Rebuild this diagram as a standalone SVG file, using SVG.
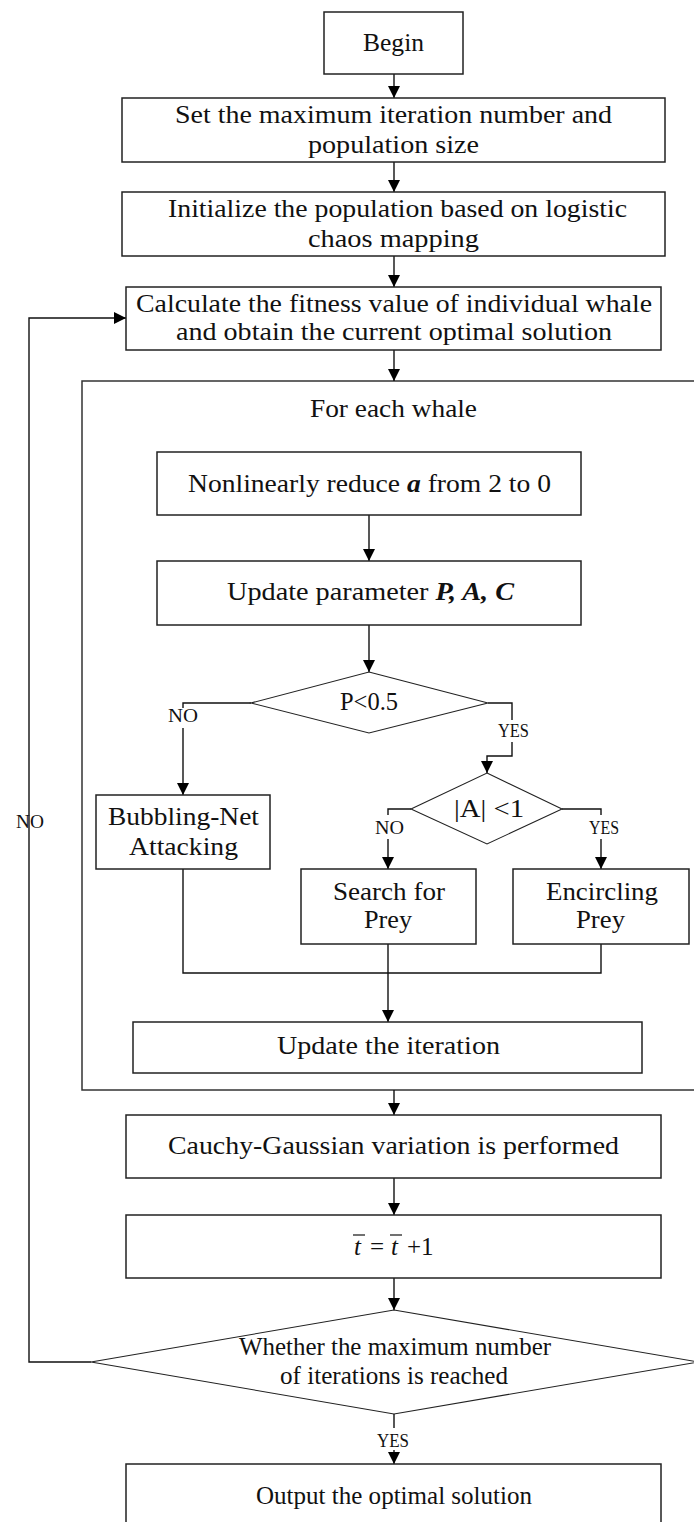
<svg xmlns="http://www.w3.org/2000/svg" width="694" height="1522" viewBox="0 0 694 1522">
<defs>
<marker id="ah" markerWidth="12" markerHeight="12" viewBox="0 0 12 12" refX="12" refY="6" orient="auto" markerUnits="userSpaceOnUse">
<path d="M0,0 L12,6 L0,12 Z" fill="#000"/>
</marker>
<style>
.box{fill:#fff;stroke:#222;stroke-width:1.5}
.dia{fill:#fff;stroke:#222;stroke-width:1.1}
.t{font-family:"Liberation Serif","Times New Roman",serif;font-size:25px;fill:#111}
.s{font-family:"Liberation Serif","Times New Roman",serif;font-size:19px;fill:#111}
.ln{fill:none;stroke:#111;stroke-width:1.4}
.arr{fill:none;stroke:#111;stroke-width:1.4;marker-end:url(#ah)}
.bi{font-weight:bold;font-style:italic}
</style>
</defs>
<rect width="694" height="1522" fill="#fff"/>

<g id="container">
<rect x="82" y="381" width="630" height="709" fill="none" stroke="#333" stroke-width="1.5"/>
<text class="t" x="310" y="417" textLength="167" lengthAdjust="spacingAndGlyphs">For each whale</text>
</g>

<g id="connectors">
<line class="arr" x1="394" y1="74" x2="394" y2="98"/>
<line class="arr" x1="394" y1="162" x2="394" y2="192"/>
<line class="arr" x1="394" y1="256" x2="394" y2="287"/>
<line class="arr" x1="394" y1="350" x2="394" y2="381"/>
<line class="arr" x1="369" y1="515" x2="369" y2="561"/>
<line class="arr" x1="369" y1="625" x2="369" y2="672"/>
<polyline class="ln" points="251,703 183,703 183,708"/>
<line class="arr" x1="183" y1="728" x2="183" y2="795"/>
<polyline class="ln" points="488,703 512,703 512,720"/>
<polyline class="arr" points="512,742 512,756 487,756 487,773"/>
<polyline class="ln" points="411,809 388,809 388,815"/>
<line class="arr" x1="388" y1="839" x2="388" y2="869"/>
<polyline class="ln" points="562,809 601,809 601,815"/>
<line class="arr" x1="601" y1="839" x2="601" y2="869"/>
<polyline class="ln" points="183,869 183,973 601,973 601,944"/>
<line class="arr" x1="388" y1="944" x2="388" y2="1022"/>
<line class="arr" x1="394" y1="1090" x2="394" y2="1115"/>
<line class="arr" x1="394" y1="1178" x2="394" y2="1215"/>
<line class="arr" x1="394" y1="1278" x2="394" y2="1310"/>
<polyline class="arr" points="91,1362 29,1362 29,318 126,318"/>
<line class="ln" x1="394" y1="1414" x2="394" y2="1428"/>
<line class="arr" x1="394" y1="1450" x2="394" y2="1464"/>
<text class="s" x="168" y="722" textLength="30" lengthAdjust="spacingAndGlyphs">NO</text>
<text class="s" x="498" y="737" textLength="31" lengthAdjust="spacingAndGlyphs">YES</text>
<text class="s" x="375" y="834" textLength="29" lengthAdjust="spacingAndGlyphs">NO</text>
<text class="s" x="589" y="834" textLength="30" lengthAdjust="spacingAndGlyphs">YES</text>
<text class="s" x="16" y="828" textLength="28" lengthAdjust="spacingAndGlyphs">NO</text>
<text class="s" x="377" y="1447" textLength="32" lengthAdjust="spacingAndGlyphs">YES</text>
</g>

<g id="begin">
<rect class="box" x="324" y="12" width="139" height="62"/>
<text class="t" x="363" y="51" textLength="61" lengthAdjust="spacingAndGlyphs">Begin</text>
</g>
<g id="set">
<rect class="box" x="122" y="98" width="543" height="64"/>
<text class="t" x="175" y="123" textLength="437" lengthAdjust="spacingAndGlyphs">Set the maximum iteration number and</text>
<text class="t" x="308" y="153" textLength="171" lengthAdjust="spacingAndGlyphs">population size</text>
</g>
<g id="init">
<rect class="box" x="122" y="192" width="543" height="64"/>
<text class="t" x="168" y="217" textLength="459" lengthAdjust="spacingAndGlyphs">Initialize the population based on logistic</text>
<text class="t" x="308" y="247" textLength="171" lengthAdjust="spacingAndGlyphs">chaos mapping</text>
</g>
<g id="calc">
<rect class="box" x="126" y="287" width="535" height="63"/>
<text class="t" x="136" y="312" textLength="516" lengthAdjust="spacingAndGlyphs">Calculate the fitness value of individual whale</text>
<text class="t" x="176" y="340" textLength="436" lengthAdjust="spacingAndGlyphs">and obtain the current optimal solution</text>
</g>
<g id="reduce">
<rect class="box" x="157" y="452" width="424" height="63"/>
<text class="t" x="188" y="492" textLength="363" lengthAdjust="spacingAndGlyphs">Nonlinearly reduce <tspan class="bi">a</tspan> from 2 to 0</text>
</g>
<g id="update-param">
<rect class="box" x="157" y="561" width="424" height="64"/>
<text class="t" x="227" y="600" textLength="287" lengthAdjust="spacingAndGlyphs">Update parameter <tspan class="bi">P, A, C</tspan></text>
</g>
<g id="p-decision">
<polygon class="dia" points="369,672 488,703 369,733 251,703"/>
<text class="t" x="340" y="710" textLength="58" lengthAdjust="spacingAndGlyphs">P&lt;0.5</text>
</g>
<g id="a-decision">
<polygon class="dia" points="487,773 562,809 487,844 411,809"/>
<text class="t" x="454" y="817" textLength="70" lengthAdjust="spacingAndGlyphs">|A| &lt;1</text>
</g>
<g id="bubbling">
<rect class="box" x="96" y="795" width="174" height="74"/>
<text class="t" x="108" y="825" textLength="151" lengthAdjust="spacingAndGlyphs">Bubbling-Net</text>
<text class="t" x="129" y="855" textLength="109" lengthAdjust="spacingAndGlyphs">Attacking</text>
</g>
<g id="search">
<rect class="box" x="301" y="869" width="175" height="75"/>
<text class="t" x="333" y="900" textLength="112" lengthAdjust="spacingAndGlyphs">Search for</text>
<text class="t" x="364" y="928" textLength="48" lengthAdjust="spacingAndGlyphs">Prey</text>
</g>
<g id="encircling">
<rect class="box" x="513" y="869" width="176" height="75"/>
<text class="t" x="546" y="900" textLength="112" lengthAdjust="spacingAndGlyphs">Encircling</text>
<text class="t" x="576" y="928" textLength="49" lengthAdjust="spacingAndGlyphs">Prey</text>
</g>
<g id="update-iter">
<rect class="box" x="133" y="1022" width="509" height="51"/>
<text class="t" x="277" y="1054" textLength="223" lengthAdjust="spacingAndGlyphs">Update the iteration</text>
</g>
<g id="cauchy">
<rect class="box" x="126" y="1115" width="535" height="63"/>
<text class="t" x="168" y="1154" textLength="451" lengthAdjust="spacingAndGlyphs">Cauchy-Gaussian variation is performed</text>
</g>
<g id="increment">
<rect class="box" x="126" y="1215" width="535" height="63"/>
<text class="t" y="1255"><tspan x="354" font-style="italic">t</tspan><tspan x="370">=</tspan><tspan x="391" font-style="italic">t</tspan><tspan x="407">+1</tspan></text>
<line x1="353" y1="1235" x2="365" y2="1235" stroke="#111" stroke-width="1.2"/>
<line x1="390" y1="1235" x2="402" y2="1235" stroke="#111" stroke-width="1.2"/>
</g>
<g id="max-decision">
<polygon class="dia" points="394,1310 698,1362 394,1414 91,1362"/>
<text class="t" x="239" y="1355" textLength="312" lengthAdjust="spacingAndGlyphs">Whether the maximum number</text>
<text class="t" x="280" y="1384" textLength="228" lengthAdjust="spacingAndGlyphs">of iterations is reached</text>
</g>
<g id="output">
<rect class="box" x="126" y="1464" width="535" height="70"/>
<text class="t" x="256" y="1504" textLength="276" lengthAdjust="spacingAndGlyphs">Output the optimal solution</text>
</g>
</svg>
